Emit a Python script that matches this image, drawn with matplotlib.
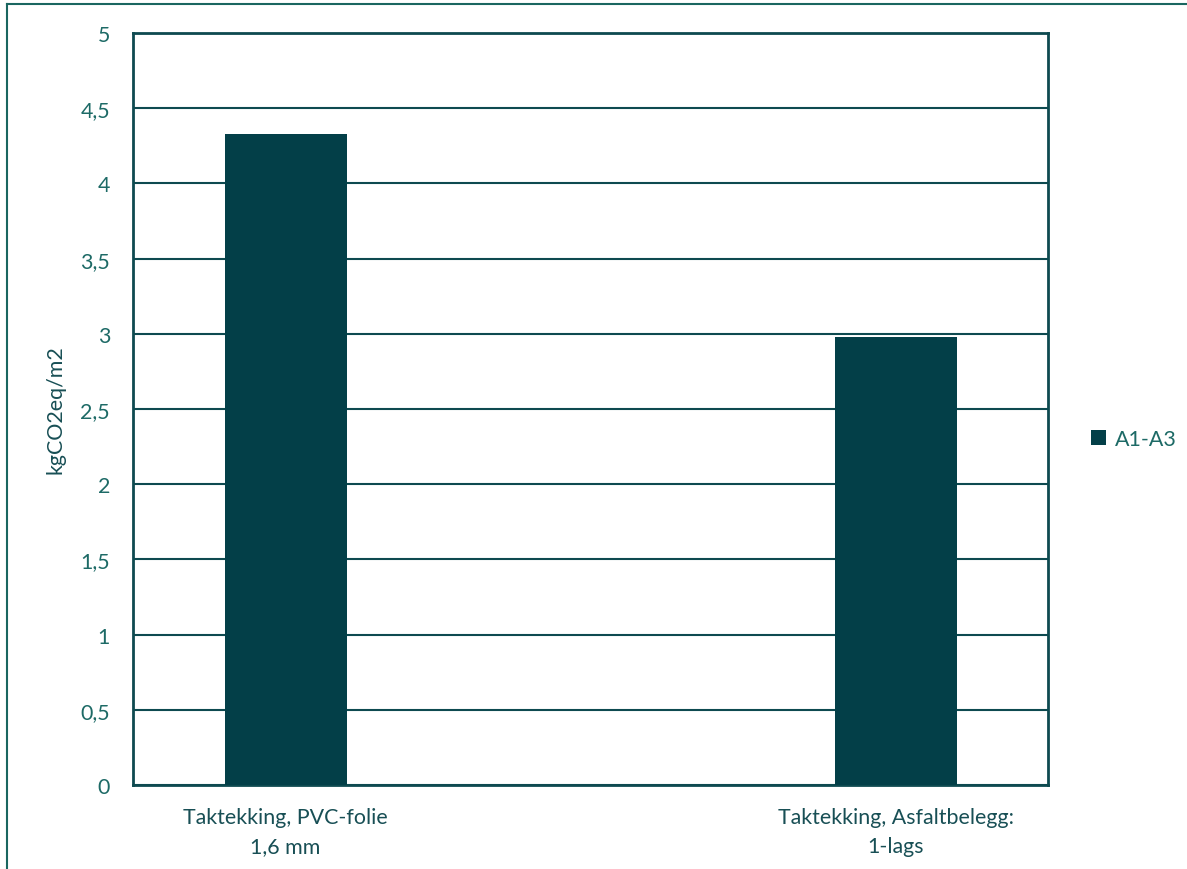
import matplotlib
matplotlib.use("Agg")
import matplotlib.pyplot as plt
import numpy as np
from matplotlib.lines import Line2D

categories = ["Taktekking, PVC-folie\n1,6 mm", "", "Taktekking, Asfaltbelegg:\n1-lags"]
a1_a3 = [4.33, np.nan, 2.98]
series_name = "A1-A3"
y_ticks = [0, 0.5, 1, 1.5, 2, 2.5, 3, 3.5, 4, 4.5, 5]
y_tick_labels = ["0", "0,5", "1", "1,5", "2", "2,5", "3", "3,5", "4", "4,5", "5"]
y_label = "kgCO2eq/m2"

bar_color = "#033f48"
grid_color = "#0e4a50"
tick_color = "#1d6a66"
xlab_color = "#184f55"
fs = 15.4

plt.rcParams['font.family'] = ['Lato', 'DejaVu Sans']

fig = plt.figure(figsize=(11.87, 8.70), dpi=100)
ax = fig.add_axes([133/1187, 1 - 786/870, (1048-133)/1187, (786-34)/870])

x = np.arange(len(categories))
ax.bar(x, a1_a3, width=0.4, color=bar_color, label=series_name, zorder=3)

ax.set_xlim(-0.5, len(categories) - 0.5)
ax.set_ylim(0, 5)
ax.set_yticks(y_ticks)
ax.set_yticklabels(y_tick_labels)
ax.set_xticks(x)
ax.set_xticklabels(categories, linespacing=1.55)
ax.tick_params(axis='y', length=0, pad=16.5, labelsize=fs, labelcolor=tick_color)
ax.tick_params(axis='x', length=0, pad=16, labelsize=fs, labelcolor=xlab_color)
ax.yaxis.grid(True, color=grid_color, linewidth=1.5, zorder=1)
ax.set_axisbelow(True)
for s in ax.spines.values():
    s.set_color(grid_color)
    s.set_linewidth(2)
ax.set_ylabel(y_label, fontsize=fs, color=xlab_color, labelpad=11)

fig.legend(loc='center left', bbox_to_anchor=(1072/1187, 1 - 440/870), frameon=False,
           fontsize=fs, labelcolor=tick_color, handlelength=0.7, handleheight=0.7,
           handletextpad=0.4)

# outer chart border (partially cropped)
fig.add_artist(Line2D([7/1187, 1.0], [1 - 5/870, 1 - 5/870], transform=fig.transFigure,
                      color="#1a6660", linewidth=1.5))
fig.add_artist(Line2D([7/1187, 7/1187], [0.0, 1 - 5/870], transform=fig.transFigure,
                      color="#1a6660", linewidth=1.5))

fig.savefig("out.png", dpi=100)
